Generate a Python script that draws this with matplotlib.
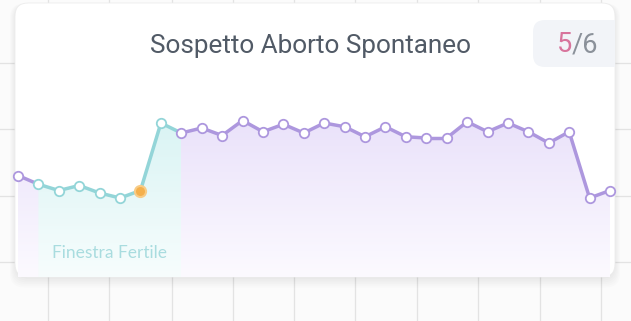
import numpy as np
import matplotlib
matplotlib.use("Agg")
import matplotlib.pyplot as plt
from matplotlib.patches import FancyBboxPatch, Polygon

# data
title = "Sospetto Aborto Spontaneo"
cycle_current = "5"
cycle_total = "/6"
window_label = "Finestra Fertile"
temps = [36.48, 36.41, 36.36, 36.40, 36.34, 36.30, 36.36, 36.90, 36.82, 36.86,
         36.80, 36.92, 36.83, 36.89, 36.82, 36.90, 36.87, 36.79, 36.87, 36.79,
         36.78, 36.78, 36.91, 36.83, 36.90, 36.83, 36.74, 36.83, 36.30, 36.36]
days = np.arange(len(temps))
fertile_start = 1
fertile_end = 8
ovulation = 6

PURPLE = "#ad97de"
TEAL = "#93d5d8"
ORANGE = "#f4b04c"

W, H = 631, 321
fig = plt.figure(figsize=(W / 100, H / 100), dpi=100)
fig.patch.set_facecolor("#fbfbfb")

# background layer in pixel units
bg = fig.add_axes([0, 0, 1, 1])
bg.set_xlim(0, W)
bg.set_ylim(H, 0)
bg.axis("off")
for gx in [48, 109, 172, 233, 294, 355, 417, 478, 540, 601]:
    bg.axvline(gx, color="#e3e3e3", lw=0.9, zorder=0)
for gy in [63, 129, 196, 262]:
    bg.axhline(gy, color="#e3e3e3", lw=0.9, zorder=0)

# card shadow + card
for k in range(6):
    sh = FancyBboxPatch((15 - k, 3 + 2 - k * 0.3), 600 + 2 * k, 274 + 2 * k,
                        boxstyle="round,pad=0,rounding_size=14",
                        facecolor="#000000", edgecolor="none", alpha=0.012, zorder=1)
    bg.add_patch(sh)
card = FancyBboxPatch((15, 3), 600, 274, boxstyle="round,pad=0,rounding_size=13",
                      facecolor="white", edgecolor="#ececec", lw=0.6, zorder=2)
bg.add_patch(card)

badge = FancyBboxPatch((533, 20), 100, 47, boxstyle="round,pad=0,rounding_size=12",
                       facecolor="#f2f4f8", edgecolor="none", zorder=3)
bg.add_patch(badge)
badge.set_clip_path(card)

bg.text(311, 46, title, ha="center", va="center", fontsize=18.8,
        family="Roboto", color="#515a66", zorder=4)
t5 = bg.text(557, 45, cycle_current, ha="left", va="center", fontsize=19.5,
             family="Roboto", color="#d8749c", zorder=4)
bg.annotate(cycle_total, xy=(1, 0), xycoords=t5, ha="left", va="bottom",
            fontsize=19.5, family="Roboto", color="#8b919a", zorder=4)

# chart layer
px_l, px_r, px_top, px_bot = 15, 615, 85, 277
ax = fig.add_axes([px_l / W, (H - px_bot) / H, (px_r - px_l) / W, (px_bot - px_top) / H])
ax.set_xlim(-0.147, 29.245)
ax.set_ylim(35.668, 37.204)
ax.axis("off")
ax.patch.set_alpha(0)
y0, y1 = ax.get_ylim()


def gradient_fill(x0, x1, top_rgb, bot_rgb, idx):
    verts = [(days[idx[0]], y0)] + [(days[i], temps[i]) for i in idx] + [(days[idx[-1]], y0)]
    poly = Polygon(verts, closed=True, facecolor="none", edgecolor="none")
    ax.add_patch(poly)
    n = 256
    t = np.linspace(0, 1, n)[:, None]
    col = np.array(top_rgb) * (1 - t) + np.array(bot_rgb) * t
    img = np.concatenate([col / 255.0, np.ones((n, 1))], axis=1)[:, None, :]
    ytop = max(temps[i] for i in idx)
    im = ax.imshow(img, extent=[x0, x1, y0, ytop], aspect="auto", origin="upper",
                   zorder=1, interpolation="bilinear")
    im.set_clip_path(poly)


all_idx = list(range(len(temps)))
gradient_fill(days[0], days[-1], (234, 226, 250), (252, 250, 255), all_idx)
win_idx = list(range(fertile_start, fertile_end + 1))
gradient_fill(days[fertile_start], days[fertile_end], (218, 244, 244), (247, 253, 253), win_idx)
ax.set_xlim(-0.147, 29.245)
ax.set_ylim(y0, y1)

for i in range(len(temps) - 1):
    c = TEAL if fertile_start <= i < fertile_end else PURPLE
    ax.plot(days[i:i + 2], temps[i:i + 2], color=c, lw=2.5, solid_capstyle="round",
            zorder=3, clip_on=False)

for i in range(len(temps)):
    if i == ovulation:
        ax.plot(days[i], temps[i], "o", ms=8, mfc=ORANGE, mec="#f8cc86", mew=1.5,
                zorder=5, clip_on=False)
    else:
        ec = TEAL if fertile_start <= i < fertile_end else PURPLE
        ax.plot(days[i], temps[i], "o", ms=6.8, mfc="white", mec=ec, mew=1.3,
                zorder=4, clip_on=False)

ax.text(1.65, y0 + (277 - 253) * 0.008, window_label, ha="left", va="center",
        fontsize=12.5, family="Lato", color="#a9dcdf", zorder=4)

fig.savefig("out.png", dpi=100, facecolor=fig.get_facecolor())
